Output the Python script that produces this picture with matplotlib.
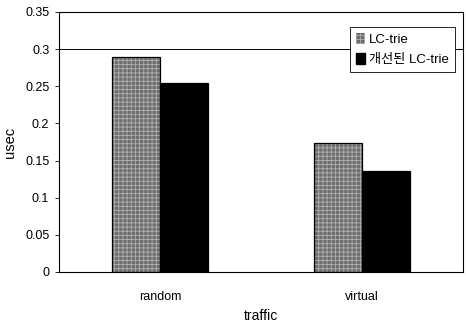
import matplotlib
matplotlib.use("Agg")
import matplotlib.pyplot as plt
import numpy as np

plt.rcParams['font.family'] = ['Liberation Sans', 'Noto Sans CJK KR', 'DejaVu Sans']

categories = ["random", "virtual"]
series_names = ["LC-trie", "개선된 LC-trie"]
lc_trie = [0.290, 0.174]
improved = [0.254, 0.136]
yticks = [0, 0.05, 0.1, 0.15, 0.2, 0.25, 0.3, 0.35]
ytick_labels = ["0", "0.05", "0.1", "0.15", "0.2", "0.25", "0.3", "0.35"]

fig = plt.figure(figsize=(4.66, 3.23), dpi=100)
ax = fig.add_axes([0.1266, 0.158, 0.867, 0.805])

x = np.arange(len(categories))
w = 0.238

plt.rcParams['hatch.linewidth'] = 0.6
ax.bar(x - w/2, lc_trie, w, facecolor='#6e6e6e', edgecolor='#b0b0b0', hatch='++++', linewidth=0, zorder=3)
ax.bar(x - w/2, lc_trie, w, facecolor='none', edgecolor='black', linewidth=0.9, zorder=4)
ax.bar(x + w/2, improved, w, facecolor='black', edgecolor='black', linewidth=0.9, zorder=3)

ax.axhline(0.3, color='black', linewidth=0.7, zorder=1)

ax.set_xlim(-0.5, 1.5)
ax.set_ylim(0, 0.35)
ax.set_yticks(yticks)
ax.set_yticklabels(ytick_labels, fontsize=9)
ax.set_xticks(x)
ax.set_xticklabels(categories, fontsize=9)
ax.tick_params(axis='x', length=0, pad=14)
ax.tick_params(axis='y', length=3, width=0.6, pad=4)
for s in ax.spines.values():
    s.set_linewidth(0.8)

ax.set_xlabel("traffic", fontsize=10, labelpad=4)
ax.set_ylabel("usec", fontsize=10.5)
ax.yaxis.set_label_coords(-0.104, 0.5)

from matplotlib.patches import Patch
handles = [Patch(facecolor='#6e6e6e', edgecolor='#b0b0b0', hatch='++++', linewidth=0),
           Patch(facecolor='black', edgecolor='black')]
leg = ax.legend(handles, series_names, loc='upper right', bbox_to_anchor=(0.980, 0.942),
                borderaxespad=0, fancybox=False, edgecolor='black', framealpha=1,
                fontsize=9.5, handlelength=0.7, handleheight=0.9, handletextpad=0.3,
                borderpad=0.45, labelspacing=0.5)
leg.get_frame().set_linewidth(0.6)
leg.set_zorder(5)

fig.savefig("out.png", dpi=100)
